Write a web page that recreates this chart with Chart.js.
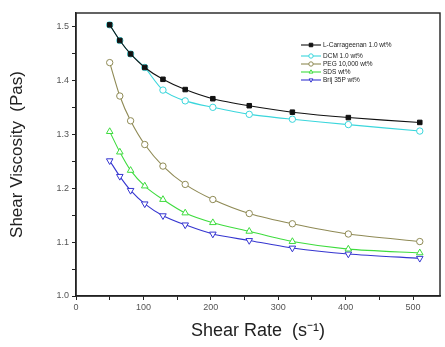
<!DOCTYPE html>
<html>
<head>
<meta charset="utf-8">
<script src="https://cdn.jsdelivr.net/npm/chart.js@4/dist/chart.umd.min.js"></script>
<style>
html,body{margin:0;padding:0;background:#fff;}
#wrap{width:445px;height:347px;}
</style>
</head>
<body>
<div id="wrap"><canvas id="c" width="445" height="347"></canvas></div>
<script>
// Data
const shearRate = [50, 65, 81, 102, 129, 162, 203, 257, 321, 404, 510];
const seriesNames = ["L-Carrageenan 1.0 wt%", "DCM 1.0 wt%", "PEG 10,000 wt%", "SDS wt%", "Brij 35P wt%"];
const carrageenan = [1.503, 1.474, 1.449, 1.424, 1.402, 1.383, 1.366, 1.353, 1.341, 1.331, 1.322];
const dcm         = [1.503, 1.474, 1.449, 1.424, 1.382, 1.362, 1.350, 1.337, 1.328, 1.318, 1.306];
const peg         = [1.433, 1.371, 1.325, 1.281, 1.241, 1.207, 1.179, 1.153, 1.134, 1.115, 1.101];
const sds         = [1.305, 1.267, 1.233, 1.204, 1.179, 1.154, 1.136, 1.120, 1.101, 1.087, 1.080];
const brij        = [1.251, 1.222, 1.196, 1.171, 1.149, 1.132, 1.115, 1.103, 1.089, 1.078, 1.070];
const xTickLabels = [0, 100, 200, 300, 400, 500];
const yTickLabels = ["1.0", "1.1", "1.2", "1.3", "1.4", "1.5"];

const FONT = "'Liberation Sans', Arial, sans-serif";
const styles = [
  {color: "#111111", fill: "#111111", shape: "rect", r: 3.2, rot: 0},
  {color: "#3ad6dc", fill: "#ffffff", shape: "circle", r: 3.2, rot: 0},
  {color: "#8f8a55", fill: "#ffffff", shape: "circle", r: 3.2, rot: 0},
  {color: "#3edc3e", fill: "#ffffff", shape: "triangle", r: 3.8, rot: 0},
  {color: "#3535d0", fill: "#ffffff", shape: "triangle", r: 3.8, rot: 180}
];
const values = [carrageenan, dcm, peg, sds, brij];

const datasets = values.map((vals, i) => ({
  label: seriesNames[i],
  data: shearRate.map((x, j) => ({x: x, y: vals[j]})),
  borderColor: styles[i].color,
  backgroundColor: styles[i].fill,
  pointBorderColor: styles[i].color,
  pointBackgroundColor: styles[i].fill,
  pointStyle: styles[i].shape,
  pointRotation: styles[i].rot,
  pointRadius: styles[i].r,
  pointBorderWidth: 1,
  borderWidth: 1.1,
  tension: 0.25,
  fill: false
}));

function drawMarker(ctx, shape, x, y, r, rot, stroke, fill) {
  ctx.save();
  ctx.translate(x, y);
  ctx.rotate(rot * Math.PI / 180);
  ctx.beginPath();
  if (shape === "rect") {
    ctx.rect(-r * 0.8, -r * 0.8, r * 1.6, r * 1.6);
  } else if (shape === "circle") {
    ctx.arc(0, 0, r, 0, Math.PI * 2);
  } else {
    ctx.moveTo(0, -r);
    ctx.lineTo(r * 0.87, r * 0.5);
    ctx.lineTo(-r * 0.87, r * 0.5);
    ctx.closePath();
  }
  ctx.fillStyle = fill;
  ctx.fill();
  ctx.strokeStyle = stroke;
  ctx.lineWidth = 1;
  ctx.stroke();
  ctx.restore();
}

const framePlugin = {
  id: "frame",
  afterDraw(chart) {
    const {ctx, chartArea: a} = chart;
    ctx.save();
    ctx.strokeStyle = "#222";
    ctx.lineWidth = 1.4;
    ctx.strokeRect(a.left, a.top, a.right - a.left, a.bottom - a.top);
    // legend
    const legY = [45, 56, 64, 72, 80];
    const x0 = a.left + 225, x1 = a.left + 245;
    ctx.font = "6.5px " + FONT;
    ctx.textBaseline = "middle";
    ctx.textAlign = "left";
    chart.data.datasets.forEach((ds, i) => {
      const y = legY[i];
      ctx.strokeStyle = ds.borderColor;
      ctx.lineWidth = 1.1;
      ctx.beginPath();
      ctx.moveTo(x0, y);
      ctx.lineTo(x1, y);
      ctx.stroke();
      drawMarker(ctx, ds.pointStyle, (x0 + x1) / 2, y, 2.2, ds.pointRotation, ds.borderColor, ds.backgroundColor);
      ctx.fillStyle = "#222";
      ctx.fillText(ds.label, x1 + 2, y);
    });
    ctx.restore();
  }
};

new Chart(document.getElementById("c"), {
  type: "line",
  data: {datasets: datasets},
  plugins: [framePlugin],
  options: {
    responsive: false,
    animation: false,
    layout: {padding: {top: 13, right: 4, left: 0, bottom: 0}},
    plugins: {legend: {display: false}, tooltip: {enabled: false}},
    scales: {
      x: {
        type: "linear",
        min: 0, max: 540,
        afterFit(s) { s.height = 51; },
        ticks: {
          stepSize: 50,
          includeBounds: false,
          autoSkip: false,
          maxRotation: 0,
          padding: 2,
          color: "#555",
          font: {family: FONT, size: 9},
          callback: (v) => (xTickLabels.includes(v) ? String(v) : "")
        },
        grid: {drawOnChartArea: false, drawTicks: true, tickLength: 4, color: "#222", tickWidth: 1},
        border: {color: "#222", width: 1.4},
        title: {
          display: true,
          text: "Shear Rate  (s\u207B\u00B9)",
          color: "#222",
          font: {family: FONT, size: 18},
          padding: {top: 0, bottom: 5}
        }
      },
      y: {
        type: "linear",
        min: 1.0, max: 1.525,
        afterFit(s) { s.width = 76; },
        ticks: {
          stepSize: 0.05,
          includeBounds: false,
          autoSkip: false,
          padding: 3,
          color: "#555",
          font: {family: FONT, size: 9},
          callback: (v) => {
            const s = (Math.round(v * 100) / 100).toFixed(1);
            return (Math.abs(v * 10 - Math.round(v * 10)) < 1e-6 && yTickLabels.includes(s)) ? s : "";
          }
        },
        grid: {drawOnChartArea: false, drawTicks: true, tickLength: 4, color: "#222", tickWidth: 1},
        border: {color: "#222", width: 1.4},
        title: {
          display: true,
          text: "Shear Viscosity  (Pas)",
          color: "#222",
          font: {family: FONT, size: 17},
          padding: {top: 7, bottom: 0}
        }
      }
    }
  }
});
</script>
</body>
</html>
